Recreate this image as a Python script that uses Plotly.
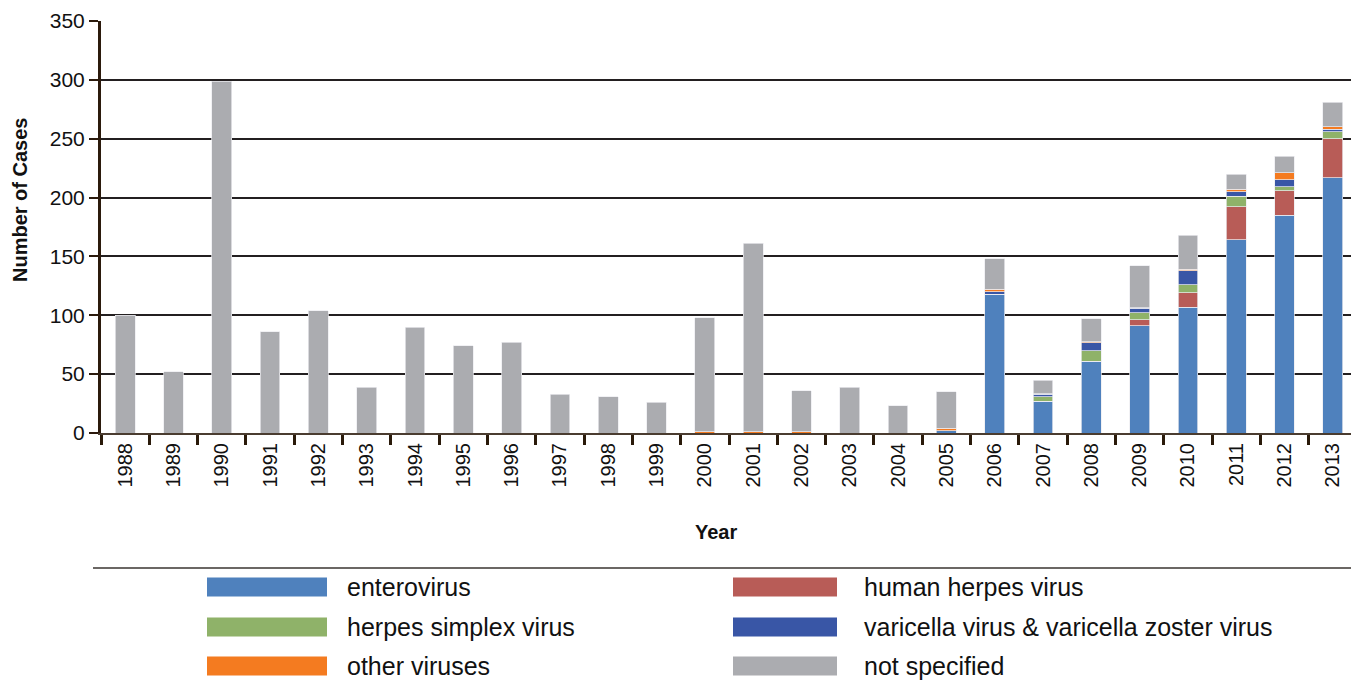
import plotly.graph_objects as go

years = [str(y) for y in range(1988, 2014)]

enterovirus = [0, 0, 0, 0, 0, 0, 0, 0, 0, 0, 0, 0, 0, 0, 0, 0, 0, 2,
               118, 27, 61, 91, 107, 164, 185, 217]
human_herpes = [0, 0, 0, 0, 0, 0, 0, 0, 0, 0, 0, 0, 0, 0, 0, 0, 0, 0,
                0, 0, 0, 5, 12, 28, 21, 33]
herpes_simplex = [0, 0, 0, 0, 0, 0, 0, 0, 0, 0, 0, 0, 0, 0, 0, 0, 0, 0,
                  0, 4, 9, 6, 7, 9, 3, 6]
varicella = [0, 0, 0, 0, 0, 0, 0, 0, 0, 0, 0, 0, 0, 0, 0, 0, 0, 0,
             2, 2, 6.5, 4, 12, 4, 6, 2]
other_viruses = [0, 0, 0, 0, 0, 0, 0, 0, 0, 0, 0, 0, 1, 1, 1, 0, 0, 2,
                 2, 0.5, 1, 0.5, 1, 2, 6, 2]
not_specified = [100, 52, 299, 86, 104, 39, 90, 74, 77, 33, 31, 26, 97, 160, 35, 39, 23, 31,
                 26, 11.5, 19.5, 35.5, 29, 13, 14, 21]

series = [
    ("enterovirus", enterovirus, "#4F81BD"),
    ("human herpes virus", human_herpes, "#B85C57"),
    ("herpes simplex virus", herpes_simplex, "#8FB269"),
    ("varicella virus & varicella zoster virus", varicella, "#3956A6"),
    ("other viruses", other_viruses, "#F47B20"),
    ("not specified", not_specified, "#ABACB0"),
]

# page has an 8px body margin; figure is sized so the screen layout matches
OFF = 8
W, H = 1359 - OFF, 682 - OFF
L, R, T = 101 - OFF, 2, 21 - OFF
B = H - (433 - OFF)
pw, ph = W - L - R, H - T - B


def fx(xp):
    return (xp - OFF - L) / pw


def fy(yp):
    return (H - B - (yp - OFF)) / ph


fig = go.Figure()
for name, vals, col in series:
    fig.add_trace(go.Bar(
        x=years, y=vals, name=name, marker_color=col,
        marker_line_color="rgba(235,235,240,0.9)", marker_line_width=0.8,
        showlegend=False,
    ))

font_family = "Liberation Sans, Arial, sans-serif"

shapes = [dict(type="line", xref="paper", yref="paper",
               x0=fx(93), x1=fx(1357), y0=fy(568), y1=fy(568),
               line=dict(color="#3a3530", width=1.5))]
annotations = [
    dict(xref="paper", yref="paper", x=fx(20), y=fy(200), text="<b>Number of Cases</b>",
         textangle=-90, showarrow=False, xanchor="center", yanchor="middle",
         font=dict(size=20, color="#111", family=font_family)),
    dict(xref="paper", yref="paper", x=fx(716), y=fy(532), text="<b>Year</b>",
         showarrow=False, xanchor="center", yanchor="middle",
         font=dict(size=20, color="#111", family=font_family)),
]
cols = [(207, 327, 345), (733, 837, 862)]
rows = [587, 627, 666]
for i, (name, vals, col) in enumerate(series):
    c = cols[i % 2]
    r = rows[i // 2]
    shapes.append(dict(type="rect", xref="paper", yref="paper",
                       x0=fx(c[0]), x1=fx(c[1]), y0=fy(r - 9.5), y1=fy(r + 9.5),
                       fillcolor=col, line=dict(width=0)))
    annotations.append(dict(xref="paper", yref="paper", x=fx(c[2]), y=fy(r),
                            text=name, showarrow=False, xanchor="left", yanchor="middle",
                            font=dict(size=25, color="#111", family=font_family)))

fig.update_layout(
    barmode="stack",
    bargap=0.59,
    width=W, height=H,
    margin=dict(l=L, r=R, t=T, b=B),
    plot_bgcolor="white", paper_bgcolor="white",
    font=dict(family=font_family, color="#111"),
    shapes=shapes,
    annotations=annotations,
    xaxis=dict(
        type="category",
        tickangle=-90,
        tickfont=dict(size=20, color="#111"),
        showline=True, linecolor="#4a3c30", linewidth=2,
        ticks="outside", tickson="boundaries", ticklen=10, tickwidth=3, tickcolor="#2a1a0a",
        showgrid=False,
    ),
    yaxis=dict(
        range=[0, 350],
        tickvals=[0, 50, 100, 150, 200, 250, 300, 350],
        tickfont=dict(size=21, color="#111"),
        showline=True, linecolor="#2b1a0c", linewidth=3,
        ticks="outside", ticklen=9, tickwidth=2, tickcolor="#2b1a0c",
        showgrid=True, gridcolor="#231f20", gridwidth=1.6,
        zeroline=False,
    ),
)

fig.write_html("out.html")
